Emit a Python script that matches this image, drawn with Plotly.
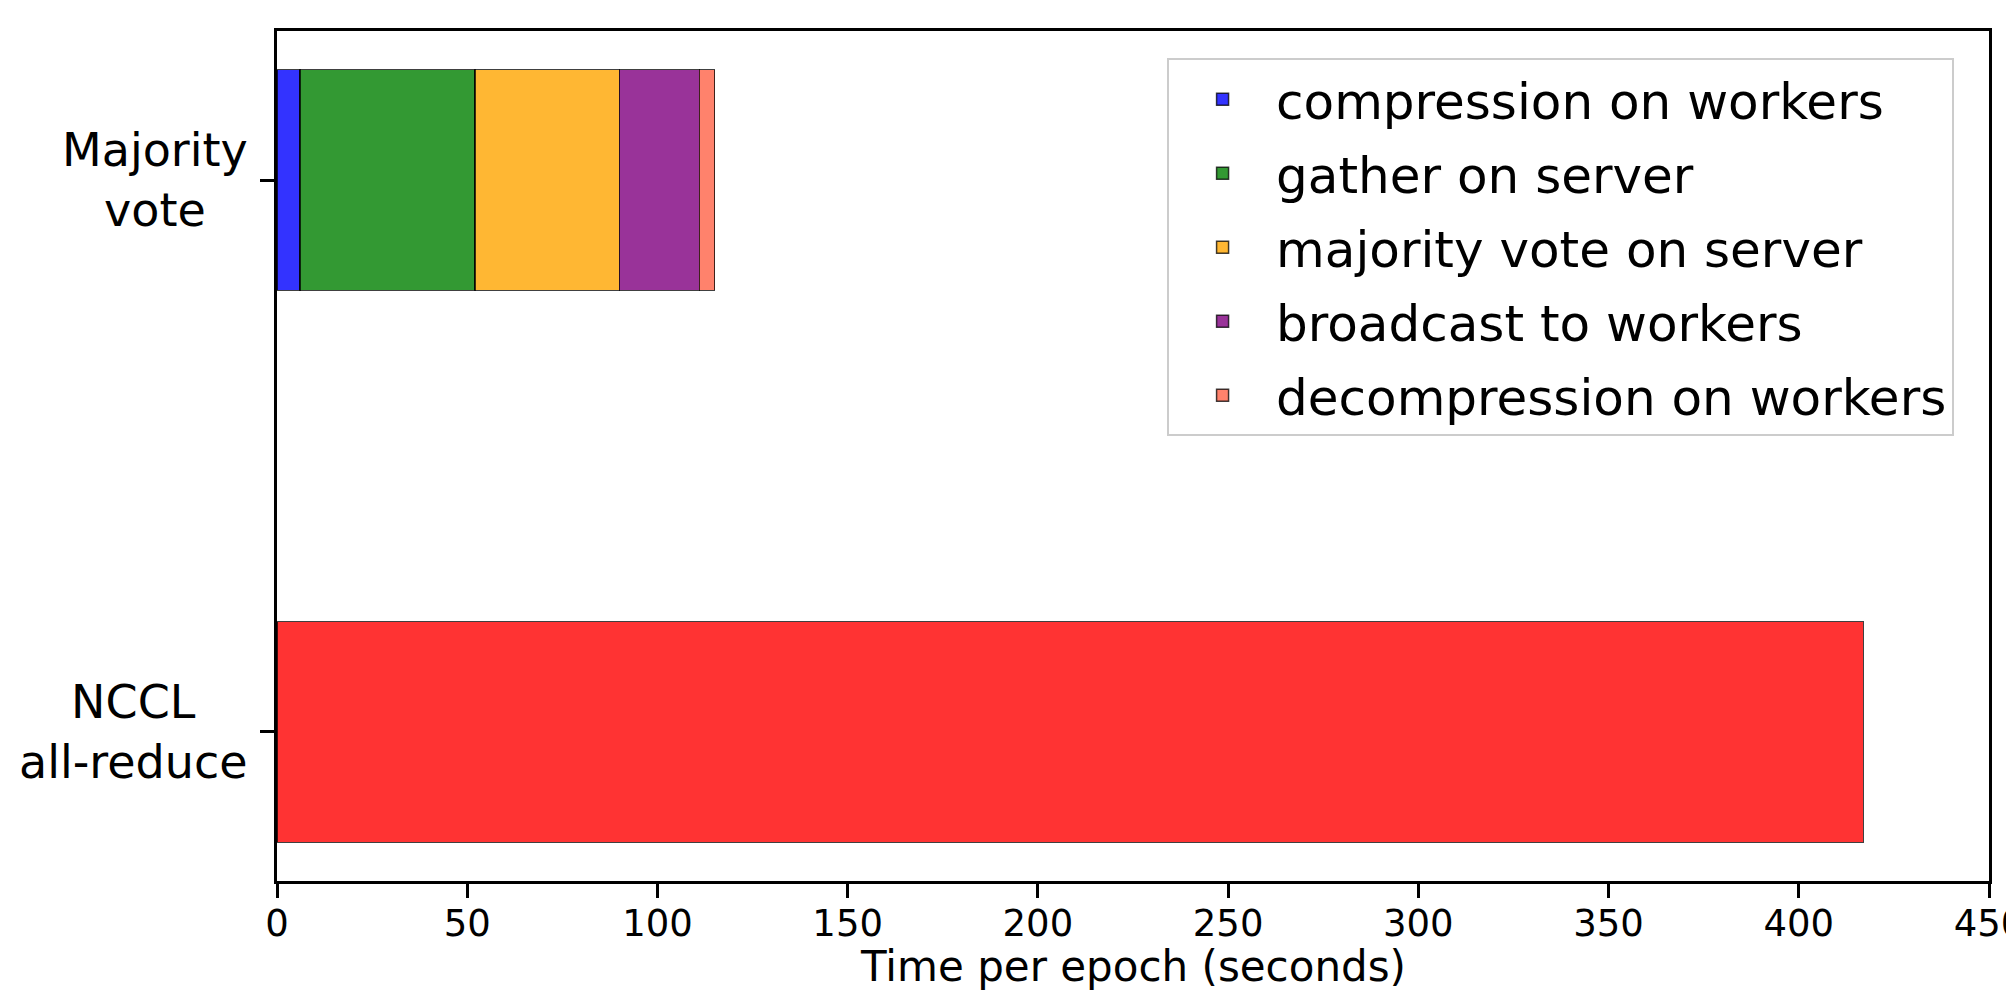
import plotly.graph_objects as go

# ---- data ----
categories = ["NCCL<br>all-reduce", "Majority<br>vote"]
category_pos = [0, 1]
stages = [
    "compression on workers",
    "gather on server",
    "majority vote on server",
    "broadcast to workers",
    "decompression on workers",
]
majority_vote_times = [6, 46, 38, 21, 4]
nccl_time = [417]
stage_colors = ["#3333FF", "#339933", "#FFB733", "#993399", "#FF826C"]
nccl_color = "#FF3333"
x_ticks = [0, 50, 100, 150, 200, 250, 300, 350, 400, 450]
x_title = "Time per epoch (seconds)"

FONT = "DejaVu Sans, Liberation Sans, sans-serif"
EDGE = "rgba(0,0,0,0.75)"

fig = go.Figure()

for name, val, col in zip(stages, majority_vote_times, stage_colors):
    fig.add_trace(go.Bar(
        y=[category_pos[1]], x=[val], name=name, orientation="h",
        width=0.4, legendgroup=name,
        marker=dict(color=col, line=dict(color=EDGE, width=1.5)),
    ))

fig.add_trace(go.Bar(
    y=[category_pos[0]], x=nccl_time, name="NCCL all-reduce", orientation="h",
    width=0.4, showlegend=False,
    marker=dict(color=nccl_color, line=dict(color=EDGE, width=1.5)),
))

for pos, label in zip(category_pos, categories):
    fig.add_annotation(
        x=-0.016, xref="paper", y=pos, yref="y", text=label,
        showarrow=False, xanchor="right", yanchor="middle", align="center",
        font=dict(family=FONT, size=46, color="black"),
    )

# x-axis title as annotation (kept inside the figure)
fig.add_annotation(
    x=0.5, xref="paper", y=-0.0692, yref="paper", text=x_title,
    showarrow=False, xanchor="center", yanchor="top",
    font=dict(family=FONT, size=42, color="black"),
)

fig.update_layout(
    width=2006, height=988,
    barmode="stack",
    plot_bgcolor="white", paper_bgcolor="white",
    margin=dict(l=269, r=25, t=23, b=115),
    font=dict(family=FONT, color="black"),
    legend=dict(
        x=0.9796, y=0.968, xanchor="right", yanchor="top",
        bgcolor="white", bordercolor="#cccccc", borderwidth=2,
        font=dict(family=FONT, size=50, color="black"),
        traceorder="grouped", tracegroupgap=6, itemwidth=97,
    ),
    showlegend=True,
)

fig.update_xaxes(
    range=[0, 450], tickvals=x_ticks, ticktext=[str(t) for t in x_ticks],
    automargin=False, ticklabeloverflow="allow",
    showgrid=False, zeroline=False,
    showline=True, linecolor="black", linewidth=3, mirror=True,
    ticks="outside", ticklen=14, tickwidth=3, tickcolor="black",
    tickfont=dict(family=FONT, size=37, color="black"),
    ticklabelstandoff=-6,
)

fig.update_yaxes(
    range=[-0.27, 1.27], tickvals=category_pos, showticklabels=False,
    automargin=False,
    showgrid=False, zeroline=False,
    showline=True, linecolor="black", linewidth=3, mirror=True,
    ticks="outside", ticklen=14, tickwidth=3, tickcolor="black",
)

fig.write_html("out.html")
